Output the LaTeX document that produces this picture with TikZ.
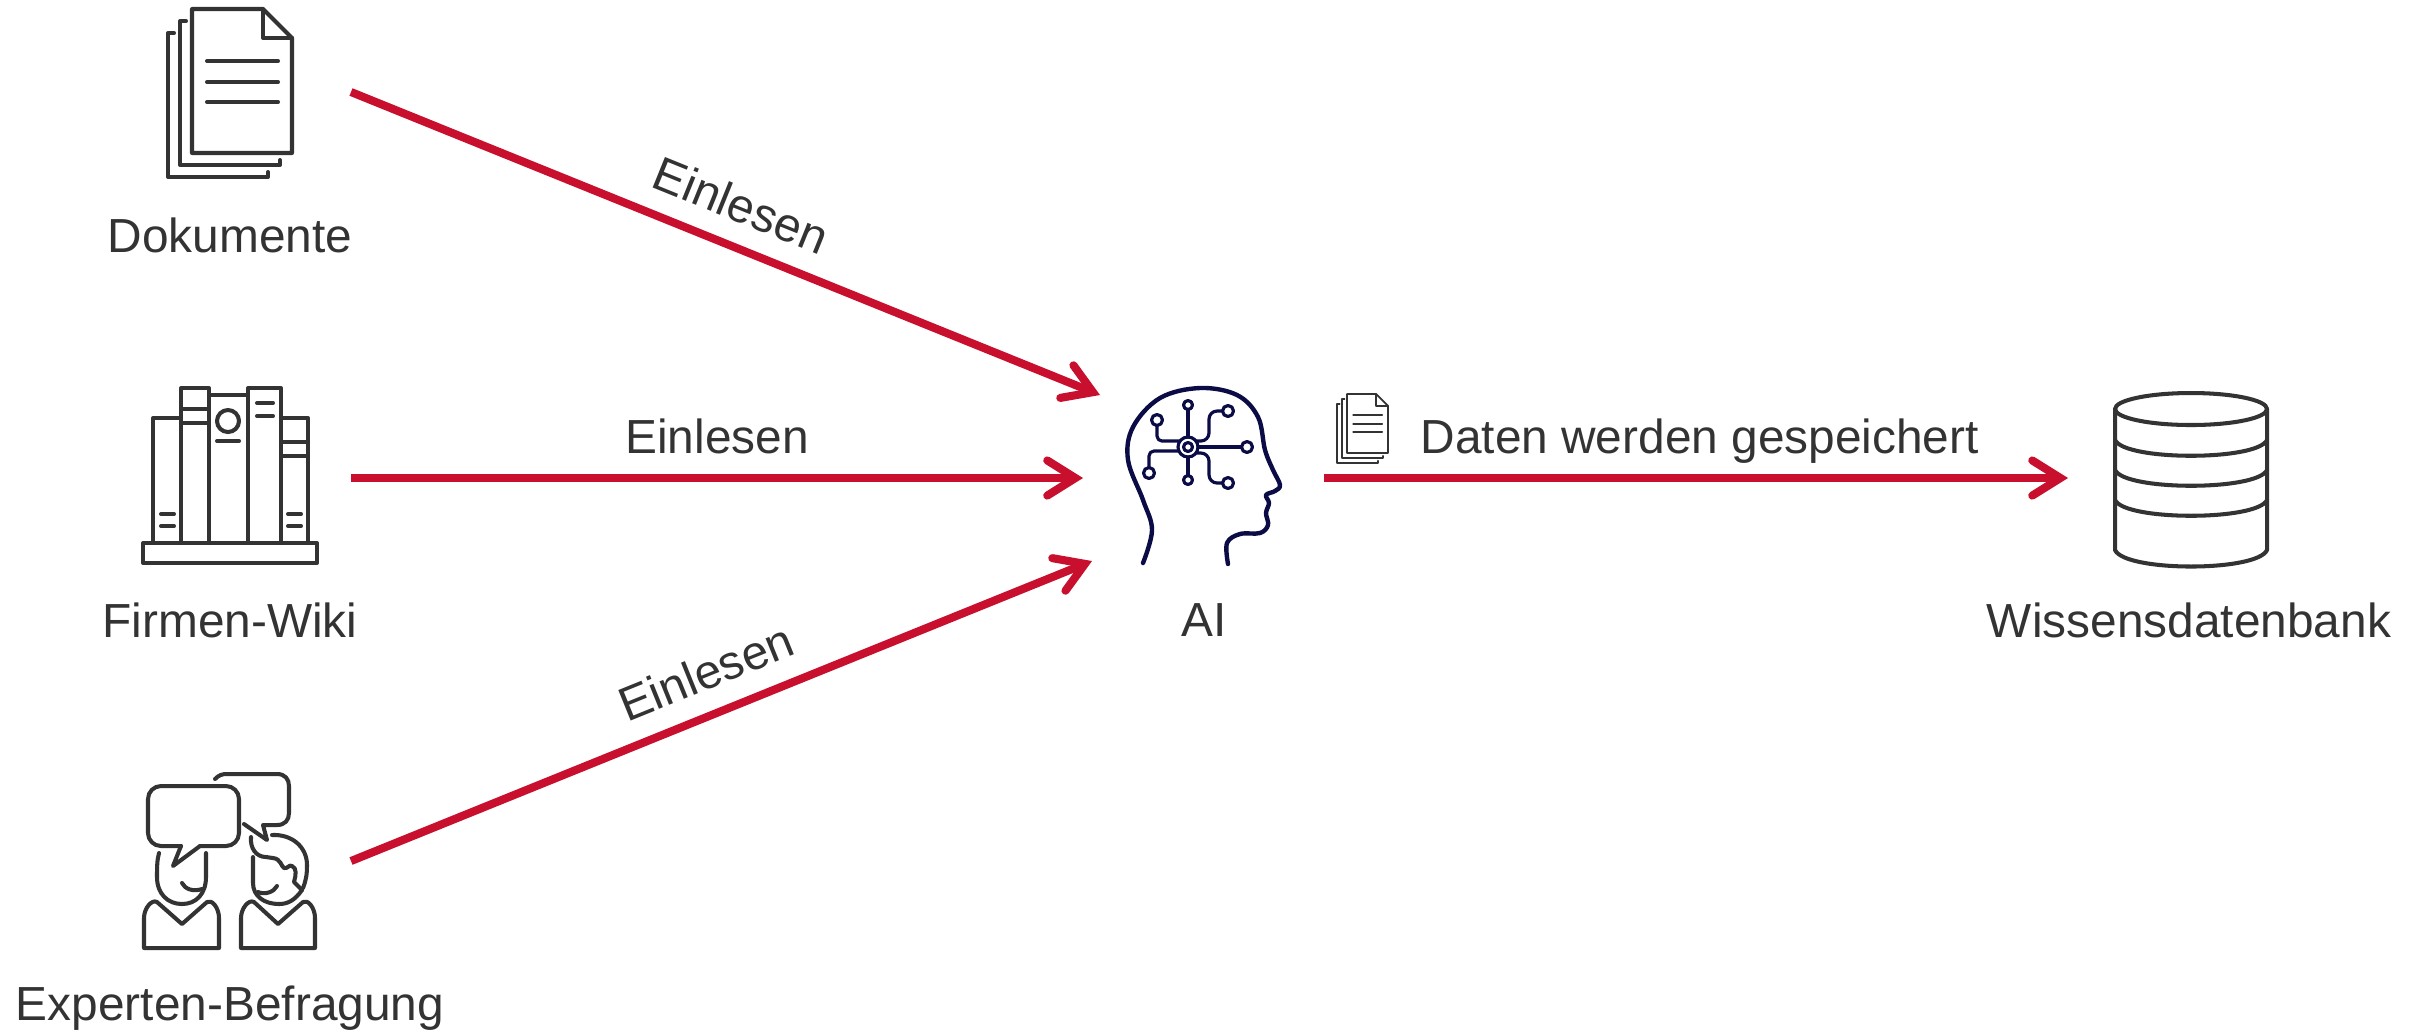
\documentclass[tikz,border=0pt]{standalone}
\usepackage{fontspec}
\setmainfont{Liberation Sans}
\usetikzlibrary{arrows.meta}

\definecolor{arrowred}{HTML}{C8102E}
\definecolor{icongray}{HTML}{333333}
\definecolor{brainblue}{HTML}{0B0B45}

\tikzset{
  icon/.style={draw=icongray,line width=1.15pt,line cap=round,line join=round},
  brain/.style={draw=brainblue,line width=.9pt,line cap=round,line join=round},
  caption/.style={text=icongray,font=\fontsize{13.6pt}{16pt}\selectfont,inner sep=0pt},
  flowlabel/.style={caption,text depth=0pt,above=5.8pt},
  flow/.style={draw=arrowred,line width=2.3pt,-{Straight Barb[length=8pt,width=10pt,line width=2.3pt,line cap=round,line join=miter]}},
  docstack/.pic={
    \draw[pic actions] (0,0) -- (71,0) -- (100,29) -- (100,144) -- (0,144) -- cycle;
    \draw[pic actions] (71,0) -- (71,29) -- (100,29);
    \draw[pic actions] (15,52) -- (86,52) (15,73) -- (86,73) (15,93) -- (86,93);
    \draw[pic actions] (-6,12) -- (-12,12) -- (-12,156) -- (88,156) -- (88,151);
    \draw[pic actions] (-18,24) -- (-24,24) -- (-24,168) -- (76,168) -- (76,163);
  }
}

\begin{document}
\begin{tikzpicture}[x=.01cm,y=-.01cm,>=stealth,auto]
\useasboundingbox (0,0) rectangle (2422,1029);

% captions
\node[caption] (dokumente)  at (230,235)  {Dokumente};
\node[caption] (wiki)       at (230,620)  {Firmen-Wiki};
\node[caption] (experten)   at (230,1008) {Experten-Befragung};
\node[caption] (ai)         at (1204,620) {AI};
\node[caption] (datenbank)  at (2189,620) {Wissensdatenbank};

% ends of the arrows
\coordinate (dokout) at (351,92);
\coordinate (wikiout) at (351,478);
\coordinate (expout) at (351,861);
\coordinate (aiin1) at (1100,395);
\coordinate (aiin2) at (1083,478);
\coordinate (aiin3) at (1092,561);
\coordinate (aiout) at (1324,478);
\coordinate (dbin) at (2068,478);

% documents
\pic[icon] at (192,9) {docstack};
\pic[icon,line width=.5pt,scale=.41] at (1347,394) {docstack};

% books
\draw[icon] (143,543) rectangle (317,563);
\draw[icon] (153,543) -- (153,418) -- (181,418);
\draw[icon] (181,543) -- (181,388) -- (209,388) -- (209,543);
\draw[icon] (181,409) -- (209,409) (181,423) -- (209,423);
\draw[icon] (209,395) -- (248,395);
\draw[icon] (228,421) circle (11);
\draw[icon] (217,441) -- (239,441);
\draw[icon] (248,543) -- (248,388) -- (281,388) -- (281,543);
\draw[icon] (257,403) -- (273,403) (257,416) -- (273,416);
\draw[icon] (281,418) -- (308,418) -- (308,543);
\draw[icon] (281,442) -- (308,442) (281,456) -- (308,456);
\draw[icon] (161,514) -- (174,514) (161,526) -- (174,526);
\draw[icon] (288,514) -- (301,514) (288,526) -- (301,526);

% experts
\draw[icon,rounded corners=3.7pt] (200,846) -- (239,846) -- (239,786) -- (148,786) -- (148,846) -- (181,846);
\draw[icon] (200,846) -- (173,866) -- (181,846);
\draw[icon] (215,779) .. controls (219,775) and (222,774) .. (227,774) -- (277,774)
  .. controls (285,774) and (289,779) .. (289,786) -- (289,813)
  .. controls (289,820) and (285,825) .. (277,825) -- (263,825) -- (267,840) -- (244,824);
\draw[icon] (159,853) .. controls (157,860) and (157,868) .. (157,877)
  .. controls (157,894) and (168,904) .. (182,904)
  .. controls (196,904) and (206,894) .. (206,877) -- (206,853);
\draw[icon] (182,883) .. controls (185,889) and (193,892) .. (202,889);
\draw[icon] (144,948) -- (144,918) .. controls (144,908) and (152,899) .. (157,902) -- (182,924)
  -- (207,902) .. controls (212,899) and (219,908) .. (219,918) -- (219,948) -- cycle;
\draw[icon] (241,948) -- (241,918) .. controls (241,908) and (249,899) .. (254,902) -- (278,924)
  -- (303,902) .. controls (308,899) and (315,908) .. (315,918) -- (315,948) -- cycle;
\draw[icon] (272,835) .. controls (292,834) and (307,847) .. (307,865)
  .. controls (307,875) and (306,880) .. (303,888);
\draw[icon] (302,890) .. controls (295,900) and (288,904) .. (279,904)
  .. controls (264,904) and (253,896) .. (253,883) -- (253,857);
\draw[icon] (251,837) .. controls (250,848) and (256,857) .. (266,857) -- (273,858)
  .. controls (281,859) and (281,866) .. (284,868) .. controls (288,869) and (289,864) .. (292,866)
  .. controls (297,868) and (296,875) .. (294,882) -- (302,890);
\draw[icon] (277,886) .. controls (274,892) and (265,895) .. (258,892);

% brain
\draw[brain,line width=1.25pt] plot[smooth,tension=.6] coordinates {(1143,563) (1152,530) (1143,500)
  (1128,460) (1133,427) (1160,398) (1200,388) (1237,395) (1258,417) (1265,450) (1273,470)
  (1280,485) (1275,491) (1266,495) (1269,503) (1266,513) (1268,525) (1260,533) (1240,534)
  (1227,543) (1228,564)};
\draw[brain] (1188,447) circle (10) (1188,447) circle (4.5);
\draw[brain] (1188,405) circle (4.5) (1188,480) circle (4.5) (1247,447) circle (5.5);
\draw[brain] (1228,411) circle (5.5) (1228,483) circle (5.5);
\draw[brain] (1157,420) circle (5.5) (1149,473) circle (5.5);
\draw[brain] (1188,410) -- (1188,437) (1188,457) -- (1188,475) (1198,447) -- (1241,447);
\draw[brain,rounded corners=1.4pt] (1157,426) -- (1157,441) -- (1180,441);
\draw[brain,rounded corners=2.3pt] (1197,441) -- (1209,441) -- (1209,411) -- (1222,411);
\draw[brain,rounded corners=1.4pt] (1179,451) -- (1149,451) -- (1149,467);
\draw[brain,rounded corners=2.3pt] (1197,453) -- (1209,453) -- (1209,483) -- (1222,483);

% database
\draw[icon] (2191,409) ellipse (76 and 16);
\draw[icon] (2115,409) -- (2115,550) .. controls (2125,572) and (2257,572) .. (2267,550) -- (2267,409);
\draw[icon] (2115,440) .. controls (2125,461) and (2257,461) .. (2267,440);
\draw[icon] (2115,470) .. controls (2125,491) and (2257,491) .. (2267,470);
\draw[icon] (2115,500) .. controls (2125,521) and (2257,521) .. (2267,500);

% arrows
\path (dokout) edge[flow] node[flowlabel,sloped] {Einlesen} (aiin1);
\path (wikiout) edge[flow] node[flowlabel] {Einlesen} (aiin2);
\path (expout) edge[flow] node[flowlabel,sloped] {Einlesen} (aiin3);
\path (aiout) edge[flow] node[flowlabel,pos=.505] {Daten werden gespeichert} (dbin);
\end{tikzpicture}
\end{document}
